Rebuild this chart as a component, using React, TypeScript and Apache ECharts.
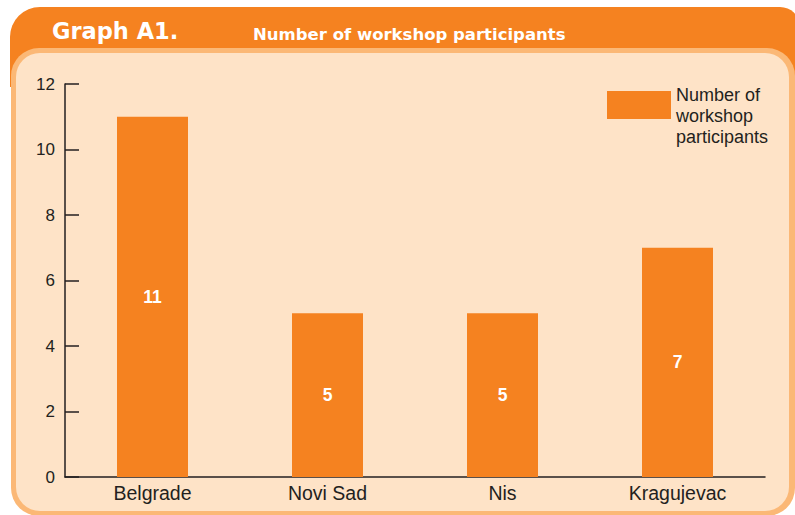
import React, { useEffect, useRef } from "react";
import * as echarts from "echarts";

const categories = ["Belgrade", "Novi Sad", "Nis", "Kragujevac"];
const participants = [11, 5, 5, 7];
const seriesName = "Number of workshop participants";
const yMin = 0;
const yMax = 12;
const yInterval = 2;

const ORANGE = "#F58220";
const LIGHT = "#FBB876";
const CREAM = "#FEE3C7";
const INK = "#231F20";
const FONT = "'Liberation Sans', Arial, sans-serif";

export default function App() {
  const ref = useRef<HTMLDivElement>(null);
  useEffect(() => {
    if (!ref.current) return;
    const chart = echarts.init(ref.current, null, { renderer: "svg" });
    chart.setOption({
      animation: false,
      backgroundColor: "#FFFFFF",
      graphic: [
        { type: "rect", z: -10, shape: { x: 10, y: 7, width: 790, height: 80, r: [30, 20, 0, 0] }, style: { fill: ORANGE } },
        { type: "rect", z: -9, shape: { x: 11, y: 48, width: 784, height: 468, r: 28 }, style: { fill: LIGHT } },
        { type: "rect", z: -8, shape: { x: 16, y: 53, width: 773, height: 458, r: 24 }, style: { fill: CREAM } },
        { type: "text", z: 5, x: 52, y: 31, style: { text: "Graph A1.", fill: "#FFFFFF", font: "bold 22.5px 'DejaVu Sans'", textVerticalAlign: "middle" } },
        { type: "text", z: 5, x: 253, y: 34, style: { text: "Number of workshop participants", fill: "#FFFFFF", font: "bold 16.5px 'DejaVu Sans'", textVerticalAlign: "middle" } },
      ],
      legend: {
        left: 602,
        top: 58,
        itemWidth: 64,
        itemHeight: 28,
        icon: "rect",
        formatter: () => " \nNumber of\nworkshop\nparticipants",
        textStyle: { color: INK, fontSize: 18, lineHeight: 21, fontFamily: FONT },
        data: [seriesName],
      },
      grid: { left: 65, right: 30, top: 84, bottom: 38, containLabel: false },
      xAxis: {
        type: "category",
        data: categories,
        axisLine: { lineStyle: { color: INK, width: 1.5 } },
        axisTick: { inside: true, length: 14, lineStyle: { color: INK, width: 1.5 } },
        axisLabel: { color: INK, fontSize: 19.5, margin: 6, fontFamily: FONT },
      },
      yAxis: {
        type: "value",
        min: yMin,
        max: yMax,
        interval: yInterval,
        splitLine: { show: false },
        axisLine: { show: true, lineStyle: { color: INK, width: 1.5 } },
        axisTick: { show: true, inside: true, length: 14, lineStyle: { color: INK, width: 1.5 } },
        axisLabel: { color: INK, fontSize: 17, margin: 10, fontFamily: FONT },
      },
      series: [
        {
          name: seriesName,
          type: "bar",
          data: participants,
          barWidth: 71,
          itemStyle: { color: ORANGE },
          label: {
            show: true,
            position: "inside",
            color: "#FFFFFF",
            fontWeight: "bold",
            fontSize: 17.5,
            fontFamily: FONT,
          },
        },
      ],
    });
    return () => chart.dispose();
  }, []);
  return <div ref={ref} style={{ width: 795, height: 515, position: "absolute", left: 0, top: 0 }} />;
}
